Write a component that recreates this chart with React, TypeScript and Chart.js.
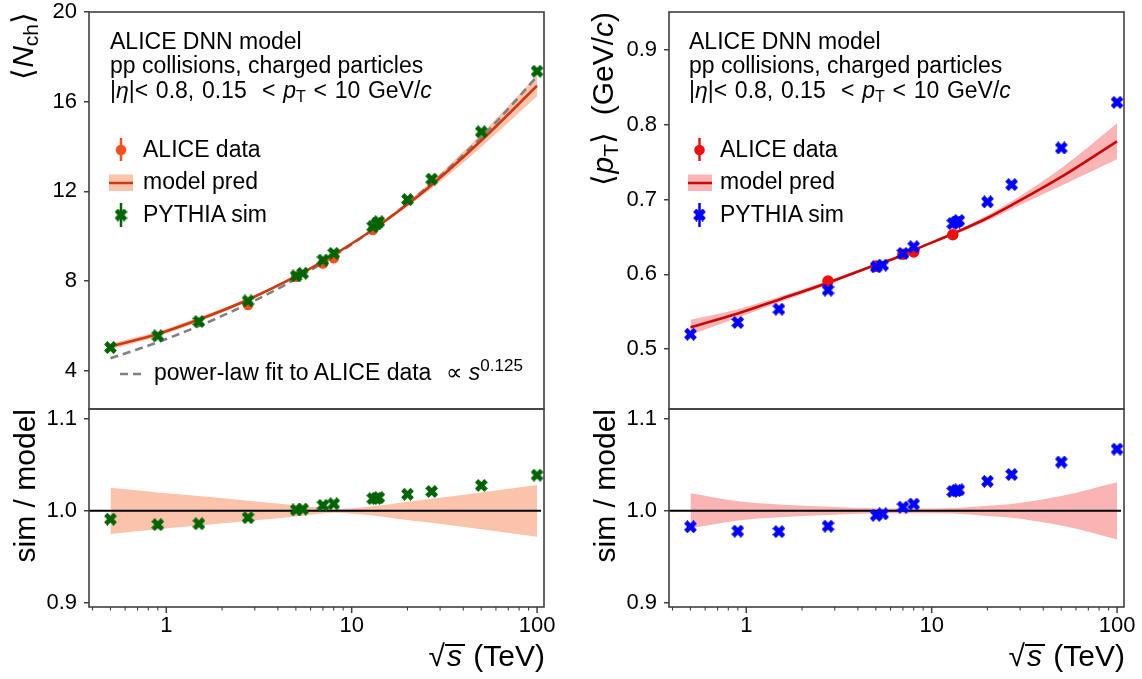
import React, { useEffect, useRef } from 'react';
import { Chart, registerables } from 'chart.js';

Chart.register(...registerables);

// ---------------- data ----------------
const X_MIN = 0.383;
const X_MAX = 109;
const X_MAJOR_TICKS = [1, 10, 100];
const X_MINOR_TICKS = [0.4, 0.5, 0.6, 0.7, 0.8, 0.9, 2, 3, 4, 5, 6, 7, 8, 9, 20, 30, 40, 50, 60, 70, 80, 90];
const NCH_TICKS = [4, 8, 12, 16, 20];
const MPT_TICKS = [0.5, 0.6, 0.7, 0.8, 0.9];
const RATIO_TICKS = [0.9, 1.0, 1.1];

const ENERGY_SIM = [0.5, 0.9, 1.5, 2.76, 5.02, 5.44, 7, 8, 13, 13.6, 14, 20, 27, 50, 100];
const NCH_SIM = [5.04, 5.56, 6.2, 7.12, 8.23, 8.35, 8.94, 9.24, 10.43, 10.55, 10.65, 11.64, 12.55, 14.66, 17.36];
const NCH_SIM_RATIO = [0.991, 0.985, 0.986, 0.9926, 1.001, 1.002, 1.006, 1.0077, 1.0133, 1.0136, 1.0144, 1.018, 1.021, 1.0276, 1.0387];
const MPT_SIM = [0.52, 0.5357, 0.5535, 0.579, 0.61, 0.6124, 0.628, 0.637, 0.668, 0.67, 0.672, 0.697, 0.72, 0.769, 0.83];
const MPT_SIM_RATIO = [0.9827, 0.978, 0.9775, 0.9834, 0.9952, 0.9967, 1.004, 1.0074, 1.021, 1.022, 1.0228, 1.032, 1.0394, 1.053, 1.067];

const ENERGY_DATA = [2.76, 5.02, 7, 8, 13];
const NCH_DATA = [6.94, 8.2, 8.79, 9.02, 10.28];
const MPT_DATA = [0.591, 0.611, 0.627, 0.63, 0.653];

const ENERGY_MODEL = [0.5, 0.9, 1.5, 2.76, 5.02, 7, 8, 13, 20, 27, 50, 100];
const NCH_MODEL = [5.09, 5.645, 6.288, 7.173, 8.22, 8.887, 9.17, 10.29, 11.43, 12.29, 14.27, 16.71];
const NCH_MODEL_RELERR = [0.025, 0.02, 0.016, 0.011, 0.006, 0.003, 0.002, 0.005, 0.01, 0.013, 0.02, 0.028];
const MPT_MODEL = [0.5292, 0.5477, 0.5662, 0.5888, 0.6129, 0.6255, 0.6323, 0.6543, 0.6754, 0.6927, 0.7303, 0.7779];
const MPT_MODEL_RELERR = [0.019, 0.0105, 0.007, 0.0045, 0.0027, 0.0025, 0.0025, 0.003, 0.0055, 0.0075, 0.016, 0.031];

const ENERGY_FIT = [0.5, 0.7, 1, 1.5, 2, 3, 5, 7, 10, 15, 20, 30, 50, 70, 100];
const NCH_FIT = [4.56, 4.96, 5.42, 6.0, 6.45, 7.13, 8.1, 8.82, 9.64, 10.67, 11.46, 12.68, 14.41, 15.68, 17.14];

const UNITY_X = [0.383, 105];
const UNITY_Y = [1, 1];

// ---------------- style ----------------
const FONT = '"Liberation Sans", Arial, Helvetica, sans-serif';
const TICK_SIZE = 22;
const TEXT_SIZE = 23;
const TITLE_SIZE = 30;
const SPINE = '#404040';

const C_NCH_DATA = '#f4511e';
const C_NCH_LINE = '#cc3a10';
const C_NCH_BAND = '#fbc2ac';
const C_NCH_SIM = '#006400';
const C_MPT_DATA = '#f01010';
const C_MPT_LINE = '#c80808';
const C_MPT_BAND = '#fbb4b4';
const C_MPT_SIM = '#0000ff';
const C_FIT = '#808080';

const pts = (xs: number[], ys: number[]) => xs.map((x, i) => ({ x, y: ys[i] }));
const scaled = (ys: number[], errs: number[], sign: number) => ys.map((y, i) => y * (1 + sign * errs[i]));
const ones = (errs: number[], sign: number) => errs.map((e) => 1 + sign * e);

function makeXMarker(color: string, size: number) {
  const c = document.createElement('canvas');
  c.width = size;
  c.height = size;
  const ctx = c.getContext('2d')!;
  ctx.strokeStyle = color;
  ctx.lineWidth = size * 0.36;
  ctx.lineCap = 'butt';
  const a = size * 0.135;
  ctx.beginPath();
  ctx.moveTo(a, a);
  ctx.lineTo(size - a, size - a);
  ctx.moveTo(size - a, a);
  ctx.lineTo(a, size - a);
  ctx.stroke();
  return c;
}

const lineDs = (data: any, color: string, width: number, order: number, dash: number[] = []) => ({
  data, showLine: true, borderColor: color, borderWidth: width, borderDash: dash,
  pointRadius: 0, fill: false, order, cubicInterpolationMode: 'monotone',
});
const bandDs = (hi: any, lo: any, color: string, order: number) => [
  { data: hi, showLine: true, borderColor: 'rgba(0,0,0,0)', borderWidth: 0, pointRadius: 0, fill: '+1', backgroundColor: color, order, cubicInterpolationMode: 'monotone' },
  { data: lo, showLine: true, borderColor: 'rgba(0,0,0,0)', borderWidth: 0, pointRadius: 0, fill: false, order: order + 1, cubicInterpolationMode: 'monotone' },
];
const markerDs = (data: any, style: any, radius: number, color: string, order: number) => ({
  data, showLine: false, pointStyle: style, pointRadius: radius, backgroundColor: color,
  borderColor: color, borderWidth: 0, order,
});

function makePlugin(ox: number, oy: number, xTicks: boolean, extra?: (ctx: CanvasRenderingContext2D) => void) {
  return {
    id: 'frameTicks',
    afterDraw(chart: any) {
      const { ctx, chartArea } = chart;
      const { left, top, right, bottom } = chartArea;
      ctx.save();
      if (xTicks) {
        const sc = chart.scales.x;
        ctx.strokeStyle = SPINE;
        const tick = (v: number, len: number, w: number) => {
          const px = sc.getPixelForValue(v);
          if (px < left - 0.5 || px > right + 0.5) return;
          ctx.lineWidth = w;
          ctx.beginPath();
          ctx.moveTo(px, bottom);
          ctx.lineTo(px, bottom + len);
          ctx.stroke();
        };
        X_MINOR_TICKS.forEach((v) => tick(v, 3.5, 1.1));
        X_MAJOR_TICKS.forEach((v) => tick(v, 6, 1.5));
      }
      ctx.strokeStyle = SPINE;
      ctx.lineWidth = 1.6;
      ctx.strokeRect(left, top, right - left, bottom - top);
      if (extra) {
        ctx.translate(-ox, -oy);
        extra(ctx);
      }
      ctx.restore();
    },
  };
}

function legendDrawer(cx: number, patchL: number, patchR: number, dataC: string, lineC: string, bandC: string, simC: string, xImg: HTMLCanvasElement, withFit: boolean) {
  return (ctx: CanvasRenderingContext2D) => {
    const vline = (x: number, y1: number, y2: number, c: string) => {
      ctx.strokeStyle = c;
      ctx.lineWidth = 2.5;
      ctx.beginPath();
      ctx.moveTo(x, y1);
      ctx.lineTo(x, y2);
      ctx.stroke();
    };
    vline(cx, 138, 161, dataC);
    ctx.fillStyle = dataC;
    ctx.beginPath();
    ctx.arc(cx, 150, 5.3, 0, Math.PI * 2);
    ctx.fill();
    ctx.fillStyle = bandC;
    ctx.fillRect(patchL, 174.5, patchR - patchL, 16.5);
    ctx.strokeStyle = lineC;
    ctx.lineWidth = 2.5;
    ctx.beginPath();
    ctx.moveTo(patchL, 183);
    ctx.lineTo(patchR, 183);
    ctx.stroke();
    vline(cx, 203, 227, simC);
    ctx.drawImage(xImg, cx - xImg.width / 2, 215 - xImg.height / 2);
    if (withFit) {
      ctx.strokeStyle = C_FIT;
      ctx.lineWidth = 2.5;
      ctx.setLineDash([8, 5]);
      ctx.beginPath();
      ctx.moveTo(120, 374);
      ctx.lineTo(146, 374);
      ctx.stroke();
      ctx.setLineDash([]);
    }
  };
}

function yScale(min: number, max: number, ticks: number[], fmt: (v: number) => string) {
  return {
    type: 'linear', min, max,
    afterFit: (s: any) => { s.width = 89; },
    afterBuildTicks: (s: any) => { s.ticks = ticks.map((v) => ({ value: v })); },
    ticks: { font: { family: FONT, size: TICK_SIZE }, color: '#000', padding: 7, autoSkip: false, callback: (v: any) => fmt(Number(v)) },
    grid: { display: true, drawOnChartArea: false, drawTicks: true, tickLength: 5, color: SPINE, lineWidth: 1.5 },
    border: { display: false },
  };
}

function xScale(show: boolean) {
  if (!show) return { type: 'logarithmic', min: X_MIN, max: X_MAX, display: false };
  const all = [...X_MINOR_TICKS, ...X_MAJOR_TICKS].sort((a, b) => a - b);
  return {
    type: 'logarithmic', min: X_MIN, max: X_MAX, position: 'bottom',
    afterFit: (s: any) => { s.height = 72; },
    afterBuildTicks: (s: any) => { s.ticks = all.map((v) => ({ value: v })); },
    ticks: {
      font: { family: FONT, size: TICK_SIZE }, color: '#000', padding: 6, autoSkip: false, maxRotation: 0, minRotation: 0,
      callback: (v: any) => (X_MAJOR_TICKS.includes(Number(v)) ? String(v) : ''),
    },
    grid: { display: false, drawTicks: false },
    border: { display: false },
  };
}

function config(datasets: any[], x: any, y: any, padding: any, plugin: any) {
  return {
    type: 'scatter',
    data: { datasets },
    options: {
      responsive: false,
      animation: false,
      events: [],
      layout: { padding },
      plugins: { legend: { display: false }, tooltip: { enabled: false } },
      scales: { x, y },
    },
    plugins: [plugin],
  };
}

const TOP_PAD = { left: 0, top: 22, right: 36, bottom: 22 };
const BOT_PAD = { left: 0, top: 22, right: 36, bottom: 0 };

const SUB: React.CSSProperties = { fontSize: '70%', verticalAlign: '-0.22em', lineHeight: 0 };
const SUP: React.CSSProperties = { fontSize: '74%', verticalAlign: '0.55em', lineHeight: 0 };

function Txt({ left, top, size, children, style }: any) {
  return (
    <div style={{ position: 'absolute', left, top, fontSize: size, lineHeight: `${size}px`, whiteSpace: 'pre', ...style }}>
      {children}
    </div>
  );
}

function VLabel({ left, top, children }: any) {
  return (
    <div style={{
      position: 'absolute', left, top, fontSize: TITLE_SIZE, lineHeight: `${TITLE_SIZE}px`, whiteSpace: 'pre',
      transformOrigin: '0 0', transform: 'rotate(-90deg) translateX(-100%)',
    }}>
      {children}
    </div>
  );
}

function Annotation({ left }: { left: number }) {
  return (
    <>
      <Txt left={left} top={30} size={TEXT_SIZE}>ALICE DNN model</Txt>
      <Txt left={left} top={53.5} size={TEXT_SIZE}>pp collisions, charged particles</Txt>
      <Txt left={left} top={78.5} size={TEXT_SIZE} style={{ wordSpacing: '1.3px' }}>
        |<i>η</i>|{'< 0.8, 0.15  < '}<i>p</i><span style={SUB}>T</span>{' < 10 GeV/'}<i>c</i>
      </Txt>
    </>
  );
}

function Legend({ left }: { left: number }) {
  return (
    <>
      <Txt left={left} top={138} size={TEXT_SIZE}>ALICE data</Txt>
      <Txt left={left} top={170} size={TEXT_SIZE}>model pred</Txt>
      <Txt left={left} top={203} size={TEXT_SIZE}>PYTHIA sim</Txt>
    </>
  );
}

function XTitle({ right }: { right: number }) {
  return (
    <div style={{ position: 'absolute', left: 0, width: right, top: 640.5, fontSize: TITLE_SIZE, lineHeight: `${TITLE_SIZE}px`, textAlign: 'right', whiteSpace: 'pre' }}>
      √<span style={{ display: 'inline-block', lineHeight: '20px', borderTop: '2px solid #000', paddingLeft: 2, paddingRight: 3 }}><i>s</i></span> (TeV)
    </div>
  );
}

export default function App() {
  const tl = useRef<HTMLCanvasElement>(null);
  const bl = useRef<HTMLCanvasElement>(null);
  const tr = useRef<HTMLCanvasElement>(null);
  const br = useRef<HTMLCanvasElement>(null);

  useEffect(() => {
    document.body.style.margin = '0';
    const xGreen = makeXMarker(C_NCH_SIM, 13);
    const xBlue = makeXMarker(C_MPT_SIM, 13);

    const tlChart = new Chart(tl.current!, config(
      [
        markerDs(pts(ENERGY_SIM, NCH_SIM), xGreen, 6, C_NCH_SIM, 0),
        markerDs(pts(ENERGY_DATA, NCH_DATA), 'circle', 5.3, C_NCH_DATA, 1),
        lineDs(pts(ENERGY_MODEL, NCH_MODEL), C_NCH_LINE, 2.6, 2),
        lineDs(pts(ENERGY_FIT, NCH_FIT), C_FIT, 2.6, 3, [8, 5]),
        ...bandDs(pts(ENERGY_MODEL, scaled(NCH_MODEL, NCH_MODEL_RELERR, 1)), pts(ENERGY_MODEL, scaled(NCH_MODEL, NCH_MODEL_RELERR, -1)), C_NCH_BAND, 4),
      ],
      xScale(false),
      yScale(2.3, 20, NCH_TICKS, (v) => String(v)),
      TOP_PAD,
      makePlugin(0, -10, false, legendDrawer(121, 109, 133, C_NCH_DATA, C_NCH_LINE, C_NCH_BAND, C_NCH_SIM, xGreen, true)),
    ) as any);

    const blChart = new Chart(bl.current!, config(
      [
        markerDs(pts(ENERGY_SIM, NCH_SIM_RATIO), xGreen, 6, C_NCH_SIM, 0),
        lineDs(pts(UNITY_X, UNITY_Y), '#000', 2, 1),
        ...bandDs(pts(ENERGY_MODEL, ones(NCH_MODEL_RELERR, 1)), pts(ENERGY_MODEL, ones(NCH_MODEL_RELERR, -1)), C_NCH_BAND, 2),
      ],
      xScale(true),
      yScale(0.8957, 1.1105, RATIO_TICKS, (v) => v.toFixed(1)),
      BOT_PAD,
      makePlugin(0, 387, true),
    ) as any);

    const trChart = new Chart(tr.current!, config(
      [
        markerDs(pts(ENERGY_SIM, MPT_SIM), xBlue, 6, C_MPT_SIM, 0),
        markerDs(pts(ENERGY_DATA, MPT_DATA), 'circle', 5.8, C_MPT_DATA, 1),
        lineDs(pts(ENERGY_MODEL, MPT_MODEL), C_MPT_LINE, 2.6, 2),
        ...bandDs(pts(ENERGY_MODEL, scaled(MPT_MODEL, MPT_MODEL_RELERR, 1)), pts(ENERGY_MODEL, scaled(MPT_MODEL, MPT_MODEL_RELERR, -1)), C_MPT_BAND, 3),
      ],
      xScale(false),
      yScale(0.42, 0.9508, MPT_TICKS, (v) => v.toFixed(1)),
      TOP_PAD,
      makePlugin(580, -10, false, legendDrawer(699.5, 688, 712, C_MPT_DATA, C_MPT_LINE, C_MPT_BAND, C_MPT_SIM, xBlue, false)),
    ) as any);

    const brChart = new Chart(br.current!, config(
      [
        markerDs(pts(ENERGY_SIM, MPT_SIM_RATIO), xBlue, 6, C_MPT_SIM, 0),
        lineDs(pts(UNITY_X, UNITY_Y), '#000', 2, 1),
        ...bandDs(pts(ENERGY_MODEL, ones(MPT_MODEL_RELERR, 1)), pts(ENERGY_MODEL, ones(MPT_MODEL_RELERR, -1)), C_MPT_BAND, 2),
      ],
      xScale(true),
      yScale(0.8957, 1.1105, RATIO_TICKS, (v) => v.toFixed(1)),
      BOT_PAD,
      makePlugin(580, 387, true),
    ) as any);

    return () => {
      tlChart.destroy();
      blChart.destroy();
      trChart.destroy();
      brChart.destroy();
    };
  }, []);

  const cv = (left: number, top: number, w: number, h: number, ref: any) => (
    <canvas ref={ref} width={w} height={h} style={{ position: 'absolute', left, top, width: w, height: h, display: 'block' }} />
  );

  return (
    <div style={{ position: 'absolute', left: 0, top: 0, width: 1142, height: 679, overflow: 'hidden', background: '#fff', fontFamily: FONT, color: '#000' }}>
      {cv(0, -10, 580, 441, tl)}
      {cv(580, -10, 580, 441, tr)}
      {cv(0, 387, 580, 292, bl)}
      {cv(580, 387, 580, 292, br)}
      <div style={{ position: 'absolute', left: 0, top: 0, width: 1142, height: 679, pointerEvents: 'none' }}>
        <Annotation left={110} />
        <Annotation left={689} />
        <Legend left={143} />
        <Legend left={720} />
        <Txt left={154} top={361} size={TEXT_SIZE}>
          {'power-law fit to ALICE data'}<span style={{ marginLeft: 15 }}>∝ </span><i>s</i><span style={SUP}>0.125</span>
        </Txt>
        <VLabel left={8} top={12}>⟨<i>N</i><span style={SUB}>ch</span>⟩</VLabel>
        <VLabel left={588} top={12}>⟨<i>p</i><span style={SUB}>T</span>⟩{'  (GeV/'}<i>c</i>)</VLabel>
        <VLabel left={10} top={409}>sim / model</VLabel>
        <VLabel left={590} top={409}>sim / model</VLabel>
        <XTitle right={545} />
        <XTitle right={1125} />
      </div>
    </div>
  );
}
